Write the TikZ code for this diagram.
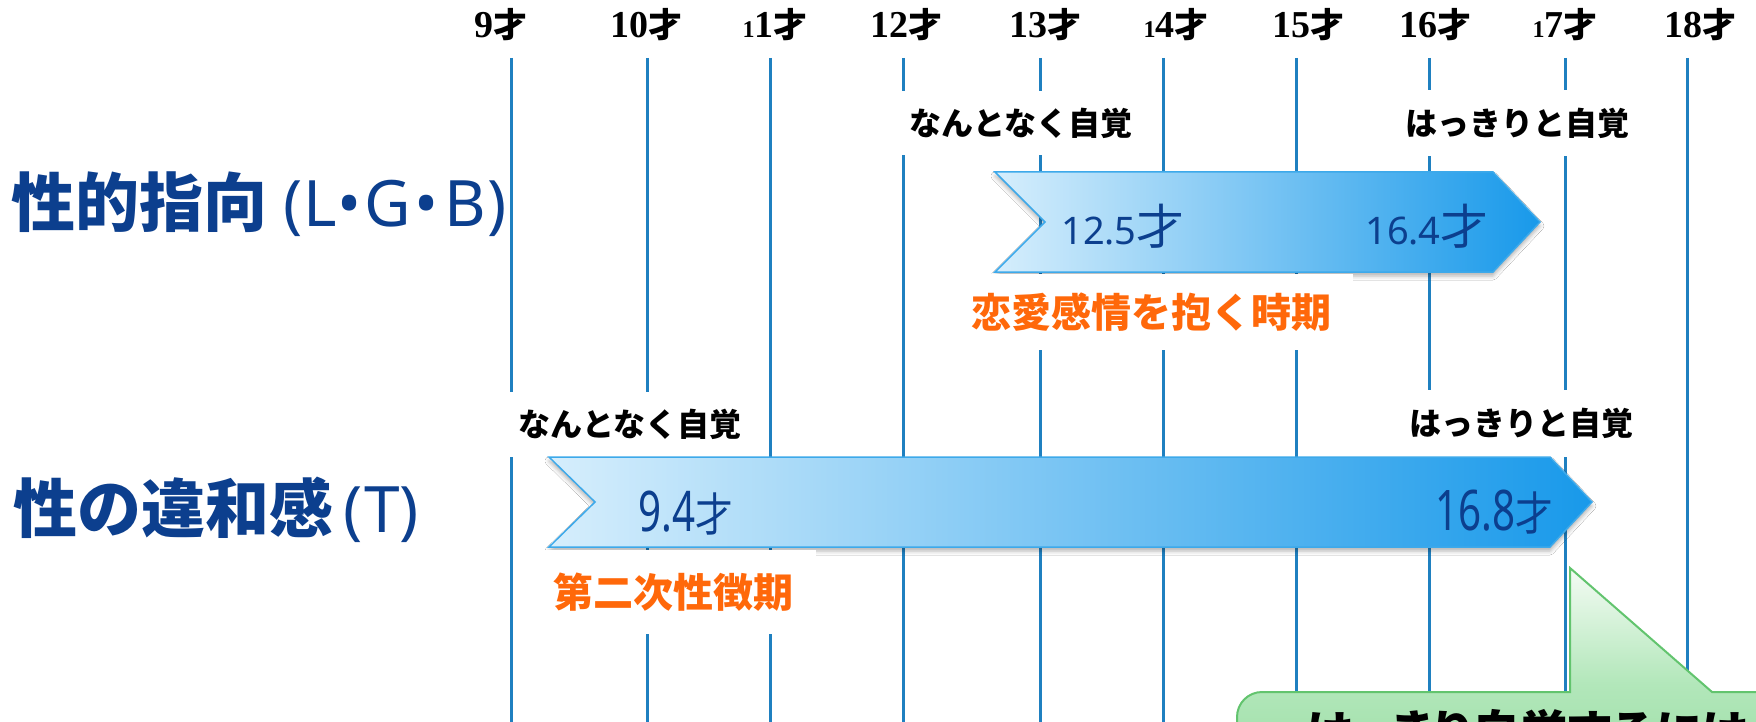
\documentclass[tikz,border=0pt]{standalone}
\usepackage{fontspec}
\usetikzlibrary{shadows.blur}
\newfontfamily\jpf{Noto Sans CJK JP}
\newfontfamily\jpp{Noto Sans CJK JP}[RawFeature=+palt]
\newfontfamily\serifnum{Liberation Serif}
\newfontfamily\sansnum{Noto Sans}
\definecolor{linecol}{HTML}{1F80C0}
\definecolor{navy}{HTML}{0C3F8E}
\definecolor{orangetxt}{HTML}{FF680A}
\definecolor{arrowL}{HTML}{D6EEFC}
\definecolor{arrowM}{HTML}{A8D3F5}
\definecolor{arrowR}{HTML}{1899EA}
\definecolor{arrowB}{HTML}{3DA9EA}
\definecolor{greenB}{HTML}{62C46E}
\definecolor{greenT}{HTML}{F4FBF4}
\definecolor{greenM}{HTML}{B2E7BA}
\definecolor{greenBot}{HTML}{96DBA0}
\newcommand{\fs}[1]{\fontsize{#1}{#1}\selectfont}
\newcommand{\agelabel}[1]{{\serifnum\bfseries #1}{\jpf\bfseries\fs{34}才}}
\newcommand{\smallone}{{\fs{24}1}}
\newcommand{\sainum}[2]{{\sansnum\fs{38}#1}{\jpf\fs{48}#2}}
\newcommand{\sainarrow}[1]{\scalebox{0.72}[1]{\sansnum\fs{56}#1}\scalebox{0.82}[1]{\jpf\fs{46}才}}
\newcommand{\bul}{•}
\tikzset{
  vline/.style={draw=linecol, line width=3pt},
  agelab/.style={anchor=base, inner sep=0pt, font=\fs{38}, text=black},
  biglab/.style={anchor=west, inner sep=0pt, font=\jpf\bfseries\fs{64}, text=navy},
  blacklab/.style={fill=white, inner sep=0pt, font=\jpf\bfseries\fs{32}, text=black},
  orangelab/.style={fill=white, inner sep=0pt, font=\jpf\bfseries\fs{40}, text=orangetxt},
  bandarrow/.style={draw=arrowB, line width=1.5pt, left color=arrowL, middle color=arrowM, right color=arrowR,
    blur shadow={shadow xshift=0pt, shadow yshift=-4pt, shadow blur radius=4pt, shadow opacity=30}},
  bandtext/.style={inner sep=0pt, text=navy},
  callout/.style={draw=greenB, line width=2pt, top color=greenT, bottom color=greenBot, middle color=greenM},
  callouttext/.style={anchor=base west, inner sep=0pt, font=\jpp\bfseries\fs{48}, text=black}
}
\begin{document}
\begin{tikzpicture}[x=1pt,y=-1pt]
\useasboundingbox (0,0) rectangle (1756,722);
\clip (0,0) rectangle (1756,722);
\fill[white] (0,0) rectangle (1756,722);

% vertical year lines
\foreach \x in {511,647,770,903,1040,1163,1296,1429,1565,1687}
  \draw[vline] (\x,58) -- (\x,740);

% age labels
\node[agelab] (age9)  at (501,38)  {\agelabel{9}};
\node[agelab] (age10) at (646,38)  {\agelabel{10}};
\node[agelab] (age11) at (775,38)  {\agelabel{\smallone 1}};
\node[agelab] (age12) at (906,38)  {\agelabel{12}};
\node[agelab] (age13) at (1045,38) {\agelabel{13}};
\node[agelab] (age14) at (1176,38) {\agelabel{\smallone 4}};
\node[agelab] (age15) at (1308,38) {\agelabel{15}};
\node[agelab] (age16) at (1435,38) {\agelabel{16}};
\node[agelab] (age17) at (1565,38) {\agelabel{\smallone 7}};
\node[agelab] (age18) at (1700,38) {\agelabel{18}};

% black awareness labels
\node[blacklab, minimum width=250pt, minimum height=64pt] (vagueA) at (1021,123.5) {なんとなく自覚};
\node[blacklab, minimum width=250pt, minimum height=66pt] (clearA) at (1517,123.5) {はっきりと自覚};
\node[blacklab, minimum width=250pt, minimum height=65pt] (vagueB) at (630,424.5) {なんとなく自覚};
\node[blacklab, minimum width=250pt, minimum height=67pt] (clearB) at (1521,423.5) {はっきりと自覚};

% row titles
\node[biglab] (rowA) at (11,204) {性的指向\hspace{16pt}{\sansnum\mdseries\fs{64}(\hspace{1pt}L\hspace{1pt}\bul\hspace{3pt}G\hspace{3pt}\bul\hspace{6pt}B\hspace{1pt})}};
\node[biglab] (rowB) at (13,510) {性の違和感\hspace{10pt}{\sansnum\mdseries\fs{64}(\hspace{2pt}T)}};

% band arrows
\path[bandarrow] (995,172) -- (1493,172) -- (1540,222) -- (1493,272) -- (995,272) -- (1045,222) -- cycle;
\path[bandarrow] (549,457) -- (1550,457) -- (1592,502) -- (1550,547) -- (549,547) -- (595,502) -- cycle;

\node[bandtext] (a125) at (1123,226) {\sainum{12.5}{才}};
\node[bandtext] (a164) at (1427,226) {\sainum{16.4}{才}};
\node[bandtext] (a94)  at (686,513)  {\sainarrow{9.4}};
\node[bandtext] (a168) at (1494,512) {\sainarrow{16.8}};

% orange period labels
\node[orangelab, minimum width=404pt, minimum height=76pt] (love) at (1151,312) {恋愛感情を抱く時期};
\node[orangelab, minimum width=285pt, minimum height=84pt] (puberty) at (673,592) {第二次性徴期};

% green callout
\path[callout] (1237,800) -- (1237,717) arc[start angle=180, end angle=90, radius=25pt]
  -- (1570,692) -- (1570,568) -- (1712,692) -- (1800,692) -- (1800,800) -- cycle;
\node[callouttext] (note) at (1306,750) {はっきり自覚するには};
\end{tikzpicture}
\end{document}
